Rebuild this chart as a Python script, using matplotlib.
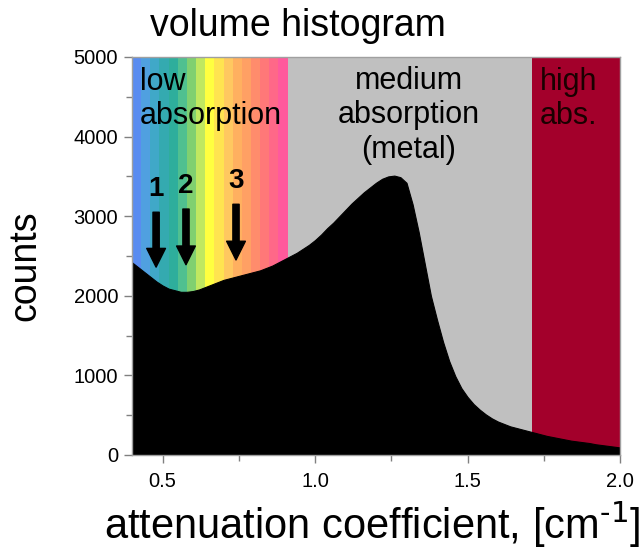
import numpy as np
import matplotlib
matplotlib.use("Agg")
import matplotlib.pyplot as plt

plt.rcParams['font.family'] = ['Liberation Sans', 'DejaVu Sans']

# histogram (bin centre, counts)
mu = [0.40, 0.42, 0.44, 0.46, 0.48, 0.50, 0.52, 0.54, 0.56, 0.58,
      0.60, 0.62, 0.64, 0.66, 0.68, 0.70, 0.72, 0.74, 0.76, 0.78,
      0.80, 0.82, 0.84, 0.86, 0.88, 0.90, 0.92, 0.94, 0.96, 0.98,
      1.00, 1.02, 1.04, 1.06, 1.08, 1.10, 1.12, 1.14, 1.16, 1.18,
      1.20, 1.22, 1.24, 1.26, 1.28, 1.30, 1.32, 1.34, 1.36, 1.38,
      1.40, 1.42, 1.44, 1.46, 1.48, 1.50, 1.52, 1.54, 1.56, 1.58,
      1.60, 1.62, 1.64, 1.66, 1.68, 1.70, 1.72, 1.74, 1.76, 1.78,
      1.80, 1.82, 1.84, 1.86, 1.88, 1.90, 1.92, 1.94, 1.96, 1.98, 2.00]
counts = [2420, 2360, 2300, 2240, 2180, 2130, 2090, 2070, 2050, 2050,
          2060, 2080, 2110, 2140, 2170, 2200, 2220, 2240, 2260, 2280,
          2300, 2320, 2350, 2380, 2420, 2460, 2500, 2540, 2590, 2640,
          2700, 2770, 2850, 2920, 3000, 3080, 3160, 3230, 3300, 3360,
          3420, 3470, 3500, 3510, 3490, 3420, 3150, 2800, 2400, 2000,
          1700, 1420, 1180, 990, 840, 730, 640, 570, 510, 460,
          420, 390, 360, 340, 320, 300, 280, 260, 240, 225,
          210, 195, 180, 170, 160, 150, 135, 125, 115, 105, 95]

# low absorption colour bands
band_edges = [0.40, 0.43, 0.46, 0.49, 0.52, 0.55, 0.58, 0.61, 0.64, 0.67,
              0.70, 0.73, 0.76, 0.79, 0.82, 0.85, 0.88, 0.91]
band_colors = ['#5a8cf0', '#50a0e0', '#40a8c8', '#34aab0', '#2eae9c', '#50c090',
               '#80d070', '#c0e860', '#ffff40', '#ffe450', '#ffc860', '#ffb060',
               '#ffa064', '#ff8c6c', '#ff7878', '#ff6888', '#ff5a9c']
medium_range = (0.91, 1.71)
high_range = (1.71, 2.0)

# arrows: x, tail, tip, label
arrow_x = [0.479, 0.577, 0.741]
arrow_tail = [3050, 3090, 3150]
arrow_tip = [2360, 2390, 2450]
arrow_lab = ['1', '2', '3']

fig = plt.figure(figsize=(6.4, 5.52), dpi=100)
ax = fig.add_axes([132/640, 97/552, 488/640, 398/552])

for i in range(len(band_colors)):
    ax.axvspan(band_edges[i], band_edges[i+1], color=band_colors[i], lw=0)
ax.axvspan(*medium_range, color='#c0c0c0', lw=0)
ax.axvspan(*high_range, color='#a3002b', lw=0)

ax.fill_between(mu, counts, 0, color='black', lw=0.8)

for x, t0, t1, lab in zip(arrow_x, arrow_tail, arrow_tip, arrow_lab):
    ax.annotate('', xy=(x, t1), xytext=(x, t0),
                arrowprops=dict(facecolor='black', edgecolor='black',
                                width=4.5, headwidth=13.5, headlength=13.5, shrink=0))
    ax.text(x, t0 + 290, lab, ha='center', va='center', fontsize=20,
            fontweight='bold')

ax.text(0.426, 4880, 'low\nabsorption', ha='left', va='top', fontsize=22)
ax.text(1.308, 4890, 'medium\nabsorption\n(metal)', ha='center', va='top',
        fontsize=22, multialignment='center')
ax.text(1.738, 4880, 'high\nabs.', ha='left', va='top', fontsize=22, color='#1a0000')

ax.set_xlim(0.4, 2.0)
ax.set_ylim(0, 5000)
ax.set_xticks([0.5, 1.0, 1.5, 2.0])
ax.set_xticklabels(['0.5', '1.0', '1.5', '2.0'])
ax.set_xticks([0.75, 1.25, 1.75], minor=True)
ax.set_yticks([0, 1000, 2000, 3000, 4000, 5000])
ax.set_yticks([500, 1500, 2500, 3500, 4500], minor=True)
ax.tick_params(which='both', direction='out', color='#808080', labelsize=14.5)
ax.tick_params(which='major', length=6, width=1)
ax.tick_params(which='minor', length=4, width=1)
ax.tick_params(axis='y', pad=4)
ax.tick_params(axis='x', pad=6)
for s in ax.spines.values():
    s.set_color('#a0a0a0')
    s.set_linewidth(1)

fig.text(298/640, 1 - 26/552, 'volume histogram', ha='center', va='center', fontsize=27)
fig.text(25/640, 1 - 266/552, 'counts', ha='center', va='center', rotation=90, fontsize=27)
fig.text(372/640, 1 - 525/552, r'attenuation coefficient, [cm$^{\text{-1}}$]',
         ha='center', va='center', fontsize=30)

fig.savefig('out.png', dpi=100)
